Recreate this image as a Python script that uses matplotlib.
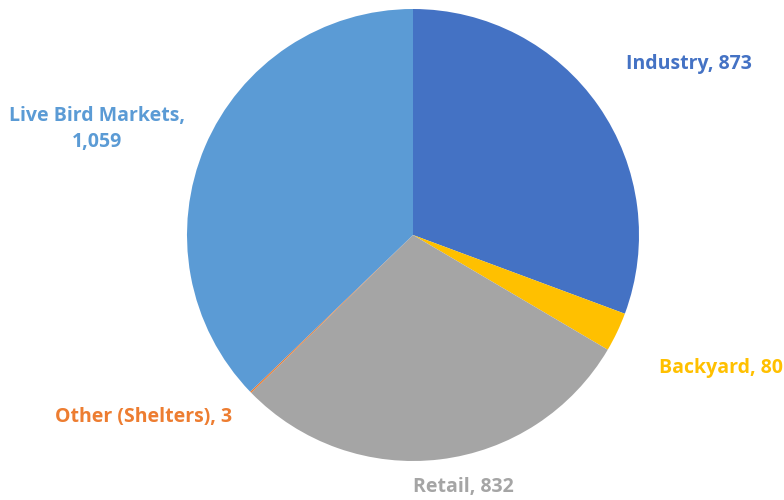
import matplotlib
matplotlib.use("Agg")
import matplotlib.pyplot as plt

# poultry sources (counts)
labels = ["Industry", "Backyard", "Retail", "Other (Shelters)", "Live Bird Markets"]
values = [873, 80, 832, 3, 1059]
colors = ["#4472C4", "#FFC000", "#A5A5A5", "#ED7D31", "#5B9BD5"]

# label anchor positions in figure pixels (x from left, y from top)
label_pos = [(689, 64), (721, 368), (463, 487), (144, 417), (97, 129)]

W, H = 784, 500
fig = plt.figure(figsize=(W / 100, H / 100), dpi=100)

cx, cy, r = 413, 235, 226
ax = fig.add_axes([(cx - r) / W, (H - cy - r) / H, 2 * r / W, 2 * r / H])

ax.pie(values, colors=colors, startangle=90, counterclock=False,
       radius=1.0, wedgeprops=dict(linewidth=0))
ax.set_xlim(-1.0, 1.0)
ax.set_ylim(-1.0, 1.0)
ax.set_aspect("equal")
ax.axis("off")

for name, val, col, (px, py) in zip(labels, values, colors, label_pos):
    txt = f"{name}, {val:,}"
    if name == "Live Bird Markets":
        txt = f"{name},\n{val:,}"
    fig.text(px / W, 1 - py / H, txt, color=col, fontsize=14,
             fontweight="bold", family="Open Sans", ha="center", va="center",
             linespacing=1.45)

fig.savefig("out.png", dpi=100, facecolor="white")
